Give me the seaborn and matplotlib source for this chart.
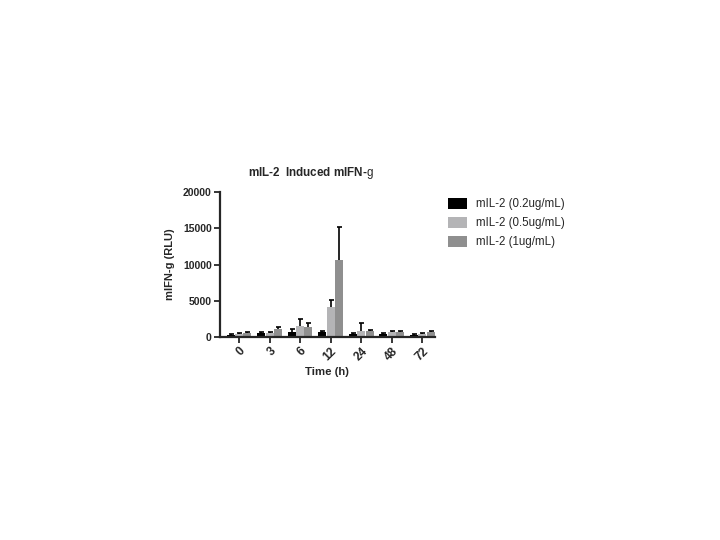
import numpy as np
import pandas as pd
import matplotlib
matplotlib.use('Agg')
import matplotlib.pyplot as plt
import seaborn as sns

sns.set_style('ticks')
plt.rcParams['font.family'] = ['Liberation Sans', 'DejaVu Sans']
plt.rcParams['mathtext.fontset'] = 'custom'
plt.rcParams['mathtext.rm'] = 'Liberation Sans'

# 數據
time_labels = ['0', '3', '6', '12', '24', '48', '72']
groups = ['mIL-2 (0.2ug/mL)', 'mIL-2 (0.5ug/mL)', 'mIL-2 (1ug/mL)']
mean_02 = [250, 600, 750, 700, 380, 370, 280]
mean_05 = [380, 600, 1480, 4200, 870, 650, 460]
mean_1 = [600, 1150, 1400, 10650, 830, 650, 700]
err_02 = [100, 150, 350, 150, 200, 150, 120]
err_05 = [150, 100, 950, 900, 1100, 150, 150]
err_1 = [150, 180, 550, 4500, 150, 150, 150]
colors = ['#000000', '#b4b4b6', '#8f8f8f']

df = pd.DataFrame({
    'time': time_labels * 3,
    'group': np.repeat(groups, len(time_labels)),
    'value': mean_02 + mean_05 + mean_1,
    'err': err_02 + err_05 + err_1,
})

fig = plt.figure(figsize=(7.2, 5.4), dpi=100)
ax = fig.add_axes([0.3056, 0.376, 0.298, 0.268])

sns.barplot(data=df, x='time', y='value', hue='group', order=time_labels,
            hue_order=groups, palette=colors, errorbar=None, gap=0.05,
            width=0.82, linewidth=0, ax=ax, zorder=2)

# 只畫向上的誤差線（放在柱子後面，去掉下端的帽）
for cont, g in zip(ax.containers, groups):
    sub = df[df['group'] == g].set_index('time').loc[time_labels]
    xs = [p.get_x() + p.get_width() / 2 for p in cont]
    _, caps, _ = ax.errorbar(xs, sub['value'],
                             yerr=[np.zeros(len(xs)), sub['err']],
                             fmt='none', ecolor='black', elinewidth=1.2,
                             capsize=1.8, capthick=1.2, zorder=1)
    caps[0].set_visible(False)

ax.set_ylim(0, 20000)
ax.set_xlim(-0.62, 6.4)
ax.set_yticks([0, 5000, 10000, 15000, 20000])
for s in ['top', 'right']:
    ax.spines[s].set_visible(False)
for s in ['left', 'bottom']:
    ax.spines[s].set_linewidth(1.6)
ax.tick_params(width=1.3, length=4, labelsize=7.5, pad=2)
ax.tick_params(axis='x', labelsize=8.6)
plt.setp(ax.get_yticklabels(), fontweight='bold')
plt.setp(ax.get_xticklabels(), fontweight='bold', rotation=45,
         ha='right', rotation_mode='anchor')

ax.set_xlabel('Time (h)', fontsize=8.2, fontweight='bold', labelpad=3)
ax.set_ylabel('mIFN-g (RLU)', fontsize=8, fontweight='bold', labelpad=6)

fig.text(0.432, 0.68, r'mIL-2  Induced mIFN-$\mathrm{g}$', fontsize=8.4,
         fontweight='bold', ha='center', va='center')

handles, labels = ax.get_legend_handles_labels()
ax.legend(handles, labels, loc='upper left', bbox_to_anchor=(1.015, 1.03),
          frameon=False, fontsize=8.3, handlelength=1.6, handleheight=1.0,
          labelspacing=0.6, handletextpad=0.8)

plt.savefig('out.png', dpi=100)
